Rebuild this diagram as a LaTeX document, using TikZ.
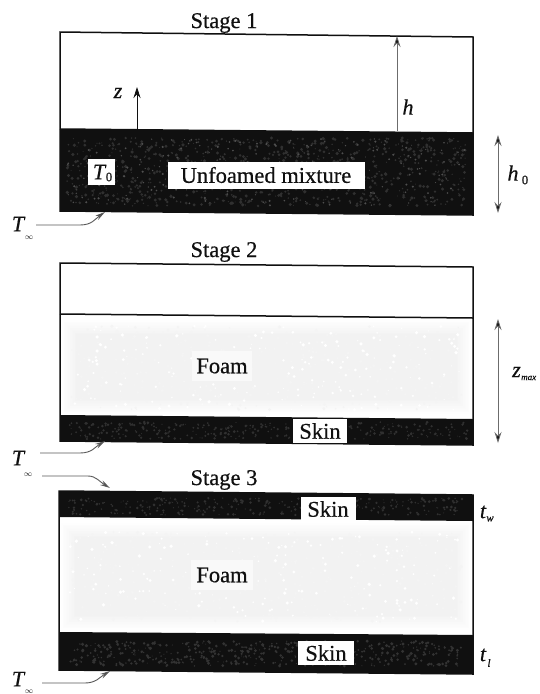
\documentclass[tikz,border=0pt]{standalone}
\usepackage{fontspec}
\setmainfont[FakeBold=0.5]{Liberation Serif}
\usetikzlibrary{arrows.meta}
\definecolor{ink}{HTML}{101010}
\definecolor{foamgray}{HTML}{F2F2F2}
\tikzset{
  x=1pt,y=-1pt,
  txt/.style={font=\fontsize{22.5}{24}\selectfont,text=ink,inner sep=0pt},
  var/.style={font=\fontsize{22}{24}\selectfont\itshape,text=ink,inner sep=0pt},
  sub/.style={font=\fontsize{13}{14}\selectfont\itshape,text=ink,inner sep=0pt},
  whitebox/.style={fill=white,inner sep=0pt},
  foambox/.style={fill=white!55!foamgray,inner sep=0pt},
  frame/.style={draw=ink,line width=1.5pt},
  thinarrow/.style={draw=gray!85!black,line width=.8pt,-{Stealth[length=11pt,width=7pt,fill=ink]}},
  dimarrow/.style={draw=gray!85!black,line width=.8pt,{Stealth[length=11pt,width=7pt,fill=ink]}-{Stealth[length=11pt,width=7pt,fill=ink]}},
  leader/.style={draw=gray!70!black,line width=.9pt,-{Stealth[length=10pt,width=5pt,fill=ink]}}
}
% speckle: x0,y0,width,height,count,colour,maxsize
\newcommand\speckle[7]{%
  \foreach \n in {1,...,#5}{%
    \pgfmathsetmacro\sx{#1+rnd*#3}%
    \pgfmathsetmacro\sy{#2+rnd*#4}%
    \pgfmathsetmacro\sr{.5+rnd*#7}%
    \fill[#6] (\sx,\sy) circle[radius=\sr pt];
  }%
}
% soft foam patch: x0,y0,x1,y1
\newcommand\softfoam[4]{%
  \foreach \k in {0,...,9}{%
    \pgfmathsetmacro\ins{\k*1.6}%
    \pgfmathsetmacro\mixv{\k*10+10}%
    \fill[foamgray!\mixv!white] ({#1+\ins},{#2+\ins}) rectangle ({#3-\ins},{#4-\ins});
  }%
}
\begin{document}
\begin{tikzpicture}
\useasboundingbox (0,0) rectangle (539,694);
\clip (0,0) rectangle (539,694);
\fill[white] (0,0) rectangle (539,694);
\pgfmathsetseed{4242}

%% Stage 1
\fill[ink] (60,129) -- (473,133) -- (473,215) -- (60,211) -- cycle;
\speckle{66}{138}{400}{68}{900}{gray!38!black}{1.3}
\speckle{66}{138}{400}{68}{260}{gray!62!black}{.7}
\draw[frame] (60,32) -- (473,37) -- (473,215) -- (60,211) -- cycle;
\draw[frame] (60,129) -- (473,133);
\node[txt] (s1) at (224,23) {Stage 1};
\node[whitebox,minimum width=27pt,minimum height=26pt] (t0) at (101,172) {};
\node[var] (t0t) at (99,172) {T};
\node[sub] (t0s) at (109,177) {\upshape 0};
\node[whitebox,minimum width=197pt,minimum height=27pt] (mix) at (266,175) {};
\node[txt] (mixt) at (266,175) {Unfoamed mixture};
\coordinate (z0) at (137,129);
\coordinate (z1) at (137,87);
\draw[thinarrow,draw=ink] (z0) -- (z1);
\node[var] (zl) at (118,93) {z};
\coordinate (h0a) at (397,131);
\coordinate (h1a) at (397,36);
\draw[thinarrow] (h0a) -- (h1a);
\node[var] (hl) at (408,107) {h};
\coordinate (d1a) at (498,135);
\coordinate (d1b) at (498,213);
\draw[dimarrow] (d1a) -- (d1b);
\node[var] (h0l) at (513,173) {h};
\node[sub] (h0s) at (525,180) {\upshape 0};
\node[var] (ta) at (18,224) {T};
\node[sub,font=\fontsize{8}{9}\selectfont] (tas) at (29,238) {$\infty$};
\coordinate (ab) at (105,212);
\draw[leader] (36,225) -- (80,225) .. controls (92,225) and (95,219) .. (ab);

%% Stage 2
\softfoam{62}{320}{471}{414}
\speckle{70}{326}{392}{84}{300}{gray!9}{1.2}
\speckle{70}{326}{392}{84}{200}{white}{1.3}
\fill[ink] (60,415) -- (473,419) -- (473,445) -- (60,441) -- cycle;
\speckle{68}{422}{400}{17}{330}{gray!38!black}{1.0}
\draw[frame] (60,263) -- (473,267) -- (473,445) -- (60,441) -- cycle;
\draw[frame] (60,314) -- (473,318);
\node[txt] (s2) at (224,252) {Stage 2};
\node[foambox,minimum width=60pt,minimum height=30pt] (f2b) at (222,366) {};
\node[txt] (f2) at (222,366) {Foam};
\node[whitebox,minimum width=54pt,minimum height=24pt] (sk2b) at (320,431) {};
\node[txt] (sk2) at (320,431) {Skin};
\coordinate (d2a) at (498,319);
\coordinate (d2b) at (498,443);
\draw[dimarrow] (d2a) -- (d2b);
\node[var,anchor=west] (zm) at (512,372) {z};
\node[sub,anchor=west,font=\fontsize{9}{10}\selectfont\itshape] (zms) at (521,378) {max};
\node[var] (tb) at (18,458) {T};
\node[sub,font=\fontsize{8}{9}\selectfont] (tbs) at (28,475) {$\infty$};
\coordinate (bb) at (105,441);
\draw[leader] (40,453) -- (80,453) .. controls (92,453) and (95,447) .. (bb);

%% Stage 3
\softfoam{61}{523}{471}{630}
\speckle{70}{532}{392}{90}{300}{gray!9}{1.2}
\speckle{70}{532}{392}{90}{200}{white}{1.3}
\fill[ink] (59,491) -- (473,495) -- (473,521) -- (59,517) -- cycle;
\speckle{68}{498}{395}{17}{330}{gray!38!black}{1.0}
\fill[ink] (59,632) -- (473,635) -- (473,674) -- (59,670) -- cycle;
\speckle{68}{641}{395}{25}{500}{gray!40!black}{1.2}
\draw[frame] (59,491) -- (473,495) -- (473,674) -- (59,670) -- cycle;
\node[txt] (s3) at (224,480) {Stage 3};
\node[whitebox,minimum width=55pt,minimum height=24pt] (sk3ab) at (328,509) {};
\node[txt] (sk3a) at (328,509) {Skin};
\node[whitebox,minimum width=56pt,minimum height=24pt] (sk3bb) at (326,653) {};
\node[txt] (sk3b) at (326,653) {Skin};
\node[foambox,minimum width=62pt,minimum height=30pt] (f3b) at (222,575) {};
\node[txt] (f3) at (222,575) {Foam};
\node[var] (tw) at (483,512) {t};
\node[sub,font=\fontsize{11}{12}\selectfont\itshape] (tws) at (490,519) {w};
\node[var] (tl) at (483,655) {t};
\node[sub,font=\fontsize{11}{12}\selectfont\itshape] (tls) at (489,663) {l};
\node[var] (tc) at (18,679) {T};
\node[sub,font=\fontsize{8}{9}\selectfont] (tcs) at (29,692) {$\infty$};
\coordinate (cb) at (110,488);
\draw[leader] (42,476) -- (88,476) .. controls (96,476) and (100,482) .. (cb);
\coordinate (db) at (110,671);
\draw[leader] (42,683) -- (85,683) .. controls (96,683) and (100,677) .. (db);
\end{tikzpicture}
\end{document}
